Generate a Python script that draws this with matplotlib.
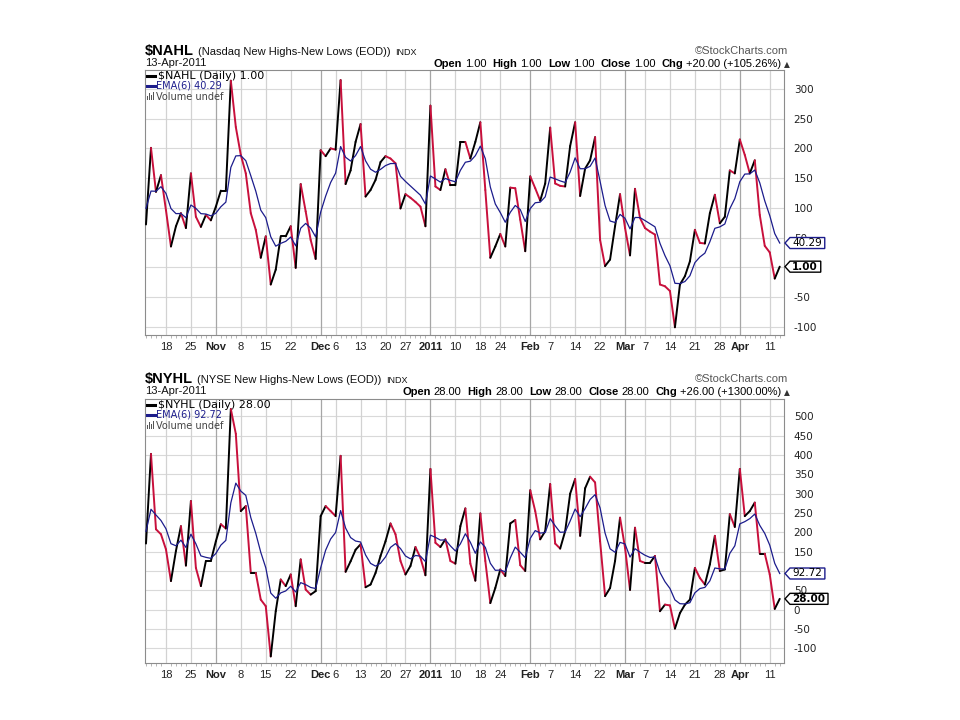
import numpy as np
import pandas as pd
import matplotlib
matplotlib.use("Agg")
import matplotlib.pyplot as plt
from matplotlib.collections import LineCollection
from matplotlib.patches import Polygon, Rectangle
from matplotlib.lines import Line2D
from matplotlib.transforms import IdentityTransform

plt.rcParams['font.family'] = ['Liberation Sans', 'DejaVu Sans']

# ---------------- data (trading days 12-Oct-2010 .. 13-Apr-2011) ----------------
nahl = [72, 201, 127, 155, 96, 35, 69, 91, 66, 158,
        85, 68, 88, 79, 102, 129, 129, 314, 236, 189,
        158, 91, 63, 16, 52, -29, -4, 52, 52, 69,
        -1, 140, 94, 46, 14, 197, 187, 200, 198, 315,
        140, 163, 211, 241, 119, 130, 147, 177, 187, 183,
        175, 99, 123, 117, 110, 102, 69, 272, 136, 130,
        165, 138, 138, 211, 211, 183, 211, 244, 130, 16,
        35, 56, 35, 134, 133, 80, 27, 153, 133, 112,
        141, 235, 141, 137, 136, 204, 244, 120, 166, 180,
        219, 46, 2, 13, 69, 123, 66, 20, 132, 83,
        66, 60, 55, -29, -32, -40, -101, -29, -15, 10,
        63, 41, 40, 91, 122, 74, 85, 163, 158, 215,
        189, 158, 180, 88, 36, 25, -19, 1]

nyhl = [171, 403, 208, 195, 156, 74, 152, 216, 114, 281,
        108, 61, 126, 126, 177, 221, 210, 519, 455, 255,
        268, 95, 95, 26, 9, -121, -4, 78, 61, 91,
        9, 130, 52, 39, 48, 242, 268, 255, 242, 398,
        98, 125, 155, 169, 58, 65, 95, 139, 177, 223,
        195, 126, 91, 113, 162, 134, 89, 364, 173, 162,
        182, 126, 119, 216, 262, 119, 75, 249, 126, 17,
        56, 104, 87, 223, 232, 115, 100, 309, 255, 182,
        203, 325, 171, 158, 203, 300, 338, 191, 314, 344,
        329, 177, 35, 56, 126, 238, 160, 51, 212, 126,
        121, 121, 139, -4, 13, 11, -49, -9, 13, 26,
        108, 82, 65, 117, 191, 100, 104, 247, 214, 364,
        242, 255, 277, 145, 145, 91, 2, 28]

# EMA level just before the first visible day
ema_seed_nahl = 110
ema_seed_nyhl = 215

tick_pos = [4, 9, 14, 19, 24, 29, 35, 38, 43, 48, 52, 57, 62, 67, 71,
            77, 81, 86, 91, 96, 100, 105, 110, 115, 119, 125]
tick_lab = ["18", "25", "Nov", "8", "15", "22", "Dec", "6", "13", "20", "27",
            "2011", "10", "18", "24", "Feb", "7", "14", "22", "Mar", "7", "14",
            "21", "28", "Apr", "11"]
month_labels = {"Nov", "Dec", "2011", "Feb", "Mar", "Apr"}

W, H = 960, 720
UP = "#000000"
DOWN = "#C8103C"
EMA_C = "#1C1C8C"


def ema(values, seed):
    s = pd.Series([seed] + list(values), dtype=float)
    return s.ewm(alpha=2.0 / 7.0, adjust=False).mean().iloc[1:].to_numpy()


fig = plt.figure(figsize=(W / 100, H / 100), dpi=100)
fig.patch.set_facecolor("white")
renderer = fig.canvas.get_renderer()


def fx(x):
    return x / W


def fy(y):
    return 1 - y / H


def runs(x, y, parts, align="left"):
    objs = []
    total = 0
    for s, kw, gap in parts:
        t = fig.text(0, 0, s, va="baseline", ha="left", **kw)
        w = t.get_window_extent(renderer).width
        objs.append((t, w, gap))
        total += w + gap
    cx = x if align == "left" else x - total
    for t, w, gap in objs:
        t.set_position((fx(cx), fy(y)))
        cx += w + gap


def tag(ax, val, text, edge, bold):
    x1 = ax.bbox.x1
    yd = ax.transData.transform((0, val))[1]
    t = fig.text(x1 + 8, yd, text, transform=IdentityTransform(), fontsize=7.5,
                 fontweight="bold" if bold else "normal", color="#000000",
                 va="center", ha="left", zorder=11, family="DejaVu Sans")
    w = t.get_window_extent(renderer).width
    h = 5.5
    verts = [(x1 + 1, yd), (x1 + 6, yd + h), (x1 + 11 + w, yd + h),
             (x1 + 11 + w, yd - h), (x1 + 6, yd - h)]
    p = Polygon(verts, closed=True, transform=IdentityTransform(),
                facecolor="white", edgecolor=edge, lw=1.0, zorder=10)
    fig.add_artist(p)


panels = [
    dict(data=nahl, seed=ema_seed_nahl, top=70, bottom=335, ylim=(-114, 332),
         yticks=list(range(-100, 301, 50)), hidden={0}, sym="$NAHL",
         desc="(Nasdaq New Highs-New Lows (EOD))", close="1.00", ema_txt="40.29",
         chg="+20.00 (+105.26%)", hy=55, dy=66),
    dict(data=nyhl, seed=ema_seed_nyhl, top=399, bottom=663, ylim=(-138, 545),
         yticks=list(range(-100, 501, 50)), hidden={100}, sym="$NYHL",
         desc="(NYSE New Highs-New Lows (EOD))", close="28.00", ema_txt="92.72",
         chg="+26.00 (+1300.00%)", hy=383, dy=394),
]

left, right = 145, 784
for P in panels:
    ax = fig.add_axes([fx(left), fy(P["bottom"]), (right - left) / W,
                       (P["bottom"] - P["top"]) / H])
    vals = np.array(P["data"], dtype=float)
    idx = np.arange(len(vals))
    ax.set_xlim(-0.2, (right - 146) / 4.99)
    ax.set_ylim(*P["ylim"])

    # grid
    for yv in P["yticks"]:
        ax.axhline(yv, color="#D9D9D9", lw=0.8, zorder=0)
    for pos, lab in zip(tick_pos, tick_lab):
        c = "#A6A6A6" if lab in month_labels else "#D2D2D2"
        ax.axvline(pos, color=c, lw=0.9, zorder=0)

    # price line, black when rising, red when falling
    segs = [[(idx[i], vals[i]), (idx[i + 1], vals[i + 1])] for i in range(len(vals) - 1)]
    cols = [UP if vals[i + 1] >= vals[i] else DOWN for i in range(len(vals) - 1)]
    lc = LineCollection(segs, colors=cols, linewidths=1.4, zorder=3,
                        capstyle="round", joinstyle="round")
    ax.add_collection(lc)

    e = ema(vals, P["seed"])
    ax.plot(idx, e, color=EMA_C, lw=0.9, zorder=4)

    # axes styling
    for s in ax.spines.values():
        s.set_color("#8C8C8C")
        s.set_linewidth(0.8)
    ax.yaxis.tick_right()
    ax.set_yticks(P["yticks"])
    ax.set_yticklabels(["" if v in P["hidden"] else str(v) for v in P["yticks"]],
                       fontsize=7.5, color="#222222", family="DejaVu Sans")
    ax.tick_params(axis="y", length=0, pad=7)
    ax.set_xticks(tick_pos)
    ax.set_xticklabels(tick_lab, fontsize=8, color="#222222")
    for tl in ax.get_xticklabels():
        if tl.get_text() in month_labels:
            tl.set_fontweight("bold")
    ax.tick_params(axis="x", length=0, pad=5)
    ax.set_xticks(idx, minor=True)
    ax.tick_params(axis="x", which="minor", length=2, width=0.5, color="#9A9A9A")
    ax.set_facecolor("white")

    # header
    top = P["top"]
    runs(left, P["hy"], [(P["sym"], dict(fontsize=10.5, fontweight="bold", color="#000"), 4),
                         (P["desc"], dict(fontsize=8, color="#111"), 5),
                         ("INDX", dict(fontsize=6.5, color="#111"), 0)])
    runs(left, P["dy"], [("13-Apr-2011", dict(fontsize=8, color="#111"), 0)])
    runs(788, P["hy"] - 1, [("\u00a9StockCharts.com", dict(fontsize=8, color="#555555"), 0)],
         align="right")
    c = P["close"]
    bl = dict(fontsize=8, fontweight="bold", color="#000")
    nm = dict(fontsize=8, color="#000")
    runs(790, P["dy"] + 1, [("Open", bl, 3), (c, nm, 6), ("High", bl, 3), (c, nm, 6),
                            ("Low", bl, 3), (c, nm, 6), ("Close", bl, 3), (c, nm, 6),
                            ("Chg", bl, 3), (P["chg"], nm, 3),
                            ("\u25b2", dict(fontsize=5.5, color="#333", family="DejaVu Sans"), 0)],
         align="right")

    # legend in upper left
    ly = top + 6
    fig.add_artist(Line2D([fx(147), fx(155)], [fy(ly), fy(ly)], color="#000", lw=2.2))
    fig.text(fx(158), fy(ly), "%s (Daily) %s" % (P["sym"], c), fontsize=8,
             family="DejaVu Sans", color="#000", va="center", zorder=5)
    ly2 = top + 16
    fig.add_artist(Line2D([fx(147), fx(155)], [fy(ly2), fy(ly2)], color=EMA_C, lw=2.2))
    fig.text(fx(156), fy(ly2), "EMA(6) %s" % P["ema_txt"], fontsize=7,
             family="DejaVu Sans", color=EMA_C, va="center", zorder=5)
    ly3 = top + 27
    for k, hgt in enumerate([4, 7, 5, 8]):
        fig.add_artist(Rectangle((fx(147 + k * 2), fy(ly3 + 3)), 1.2 / W, hgt / H,
                                 color="#555555", lw=0))
    fig.text(fx(156), fy(ly3), "Volume undef", fontsize=7, family="DejaVu Sans",
             color="#444444", va="center", zorder=5)

    # value tags at right
    tag(ax, e[-1], P["ema_txt"], EMA_C, False)
    tag(ax, vals[-1], c, "#000000", True)

fig.savefig("out.png", dpi=100, facecolor="white")
